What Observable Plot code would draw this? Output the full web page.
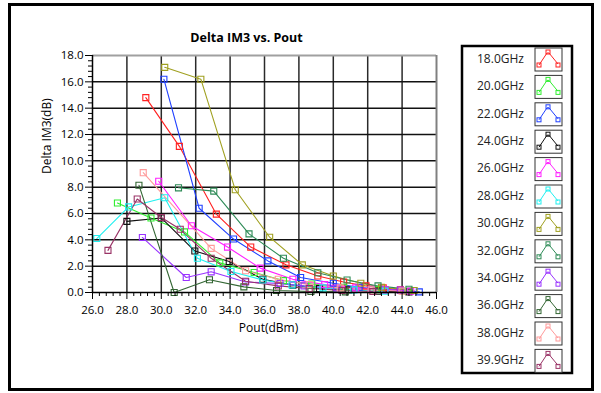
<!DOCTYPE html>
<html><head><meta charset="utf-8">
<script src="https://cdn.jsdelivr.net/npm/d3@7"></script>
<script src="https://cdn.jsdelivr.net/npm/@observablehq/plot@0.6"></script>
<style>
body{margin:0;background:#fff;}
#wrap{position:relative;width:601px;height:393px;overflow:hidden;font-family:"Open Sans",sans-serif;background:#fff;}
#outer{position:absolute;left:8px;top:3px;width:580px;height:382px;border:3px solid #000;}
#chart{position:absolute;left:0;top:0;}
#legend{position:absolute;left:0;top:0;}
</style></head><body>
<div id="wrap"><div id="outer"></div><div id="chart"></div><svg id="legend" width="601" height="393"></svg></div>
<script>
// ---- data ----
const freqs = ["18.0GHz","20.0GHz","22.0GHz","24.0GHz","26.0GHz","28.0GHz","30.0GHz","32.0GHz","34.0GHz","36.0GHz","38.0GHz","39.9GHz"];
const colors = ["#ff2020","#30ee30","#2040ff","#111111","#ff20ff","#20f0f0","#a0a020","#2e8b57","#9933ff","#336633","#ff9a9a","#993366"];

const pout18 = [29.1, 31.05, 33.2, 35.2, 37.25, 39.1, 40.6, 41.9, 42.9, 43.9];
const dim18  = [14.8, 11.1, 5.95, 3.45, 2.1, 1.25, 0.8, 0.5, 0.35, 0.2];
const pout20 = [27.45, 29.4, 31.35, 33.4, 35.4, 37.1, 38.75, 40.6, 42.5, 44.3];
const dim20  = [6.8, 5.66, 4.6, 2.25, 1.52, 0.9, 0.64, 0.4, 0.22, 0.1];
const pout22 = [30.15, 32.2, 34.2, 36.2, 38.1, 40.0, 41.5, 43.0, 45.0];
const dim22  = [16.2, 6.4, 4.06, 2.4, 1.14, 0.7, 0.4, 0.2, 0.05];
const pout24 = [28.0, 30.0, 31.95, 33.95, 35.9, 37.65, 39.2, 40.9, 42.6, 44.4];
const dim24  = [5.4, 5.66, 3.15, 2.36, 1.0, 0.56, 0.3, 0.2, 0.1, 0.05];
const pout26 = [29.85, 31.75, 33.85, 35.75, 37.65, 39.5, 41.3, 43.0, 44.5];
const dim26  = [8.45, 5.07, 3.45, 1.85, 1.0, 0.6, 0.35, 0.2, 0.1];
const pout28 = [26.25, 28.1, 30.2, 32.1, 34.05, 35.9, 37.6, 39.4, 41.2, 43.0];
const dim28  = [4.1, 6.5, 7.2, 2.6, 1.6, 0.95, 0.58, 0.35, 0.2, 0.1];
const pout30 = [30.2, 32.3, 34.3, 36.3, 38.2, 40.0, 41.6, 42.8, 44.7];
const dim30  = [17.1, 16.2, 7.8, 4.2, 2.1, 1.25, 0.7, 0.4, 0.15];
const pout32 = [31.0, 33.05, 35.1, 37.1, 39.1, 40.8, 42.6, 44.4];
const dim32  = [7.95, 7.7, 4.45, 2.6, 1.5, 0.95, 0.5, 0.25];
const pout34 = [28.9, 31.45, 32.9, 34.9, 36.9, 38.3, 40.2, 42.2, 43.9];
const dim34  = [4.18, 1.14, 1.57, 0.8, 0.68, 0.5, 0.35, 0.25, 0.18];
const pout36 = [28.7, 30.75, 32.8, 34.8, 36.7, 38.7, 40.7];
const dim36  = [8.15, 0.0, 0.97, 0.43, 0.15, 0.08, 0.05];
const pout38 = [28.95, 32.9, 34.9, 36.8, 38.6, 40.4, 42.2, 44.0];
const dim38  = [9.1, 3.35, 1.65, 1.0, 0.6, 0.35, 0.2, 0.1];
const pout399 = [26.9, 28.6, 30.0, 31.1, 32.9, 34.9, 36.8, 38.6, 40.5, 42.3];
const dim399  = [3.2, 7.1, 5.7, 4.8, 2.6, 0.85, 0.5, 0.3, 0.15, 0.08];

const xTicks = [26,28,30,32,34,36,38,40,42,44,46];
const yTicks = [0,2,4,6,8,10,12,14,16,18];

const title = "Delta IM3 vs. Pout";
const xLabel = "Pout(dBm)";
const yLabel = "Delta IM3(dB)";

// ---- build table ----
const seriesX = [pout18,pout20,pout22,pout24,pout26,pout28,pout30,pout32,pout34,pout36,pout38,pout399];
const seriesY = [dim18,dim20,dim22,dim24,dim26,dim28,dim30,dim32,dim34,dim36,dim38,dim399];
const rows = freqs.flatMap((f, k) => seriesX[k].map((x, i) => ({freq: f, pout: x, dim: seriesY[k][i]})));

const xMinor = d3.range(26, 46.001, 0.4).filter(v => Math.abs(v/2 - Math.round(v/2)) > 1e-6);
const yMinor = d3.range(0, 18.001, 0.4).filter(v => Math.abs(v/2 - Math.round(v/2)) > 1e-6);

const chart = Plot.plot({
  width: 601, height: 393,
  marginLeft: 92, marginRight: 165, marginTop: 55, marginBottom: 101,
  style: {fontFamily: "'Open Sans', sans-serif", fontSize: "11.5px", color: "#000", background: "transparent"},
  x: {domain: [26, 46]},
  y: {domain: [0, 18]},
  color: {domain: freqs, range: colors},
  marks: [
    Plot.ruleX(xTicks.slice(1, -1), {stroke: "#2a2a2a", strokeWidth: 1.5}),
    Plot.ruleY(yTicks.slice(1, -1), {stroke: "#111", strokeWidth: 1.5}),
    Plot.ruleY([18], {stroke: "#a0a0a0", strokeWidth: 2}),
    Plot.ruleX([46], {stroke: "#808080", strokeWidth: 2}),
    Plot.line(rows, {x: "pout", y: "dim", z: "freq", stroke: "freq", strokeWidth: 1.1}),
    Plot.dot(rows, {x: "pout", y: "dim", stroke: "freq", symbol: "square", r: 3.4, fill: "none", strokeWidth: 1.1}),
    Plot.ruleX([26], {stroke: "#000", strokeWidth: 1.5}),
    Plot.ruleY([0], {stroke: "#000", strokeWidth: 1.5}),
    Plot.axisY(yTicks, {tickSize: 7, tickPadding: 2, tickFormat: d => d.toFixed(1), label: null}),
    Plot.axisY(yMinor, {tickSize: 4, tickFormat: () => "", label: null}),
    Plot.axisX(xTicks, {tickSize: 7, tickPadding: 6, tickFormat: d => d.toFixed(1), label: null}),
    Plot.axisX(xMinor, {tickSize: 4, tickFormat: () => "", label: null}),
    Plot.text([title], {frameAnchor: "top", dx: -18, dy: -22, fontWeight: "bold", fontSize: 12.5}),
    Plot.text([xLabel], {frameAnchor: "bottom", dx: 4, dy: 39, fontSize: 12}),
    Plot.text([yLabel], {frameAnchor: "left", dx: -45, rotate: -90, fontSize: 12})
  ]
});
document.getElementById("chart").appendChild(chart);

// ---- legend ----
const lg = d3.select("#legend");
lg.append("rect").attr("x", 462).attr("y", 46).attr("width", 110).attr("height", 327)
  .attr("fill", "none").attr("stroke", "#000").attr("stroke-width", 2.5);
freqs.forEach((f, i) => {
  const cy = 58.5 + i * 27.4;
  lg.append("text").attr("x", 477).attr("y", cy).attr("dy", "0.35em")
    .attr("font-family", "'Open Sans', sans-serif").attr("font-size", 12).attr("fill", "#222").text(f);
  const bx = 535, by = cy - 10.5;
  lg.append("rect").attr("x", bx).attr("y", by).attr("width", 27).attr("height", 23)
    .attr("fill", "#fff").attr("stroke", "#333").attr("stroke-width", 1);
  const pts = [[bx+4, by+17], [bx+12, by+5], [bx+14, by+5], [bx+23, by+16]];
  lg.append("polyline").attr("points", pts.map(p => p.join(",")).join(" "))
    .attr("fill", "none").attr("stroke", colors[i]).attr("stroke-width", 1);
  [[bx+4, by+17], [bx+13, by+4], [bx+23, by+17]].forEach(p => {
    lg.append("rect").attr("x", p[0]-2).attr("y", p[1]-2).attr("width", 4).attr("height", 4)
      .attr("fill", "none").attr("stroke", colors[i]).attr("stroke-width", 1);
  });
});
</script></body></html>
